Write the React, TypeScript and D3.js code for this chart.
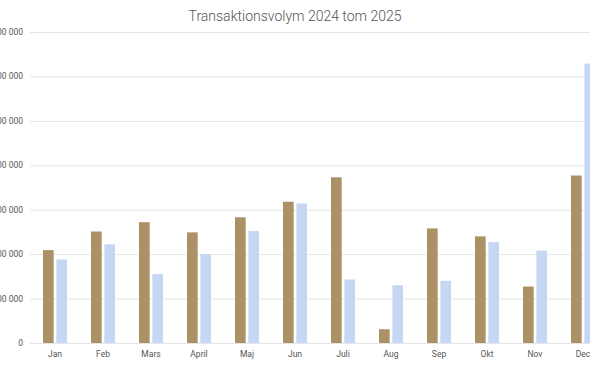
import React, { useEffect, useRef } from "react";
import * as d3 from "d3";

// Months and yearly series
const months = ["Jan", "Feb", "Mars", "April", "Maj", "Jun", "Juli", "Aug", "Sep", "Okt", "Nov", "Dec"];
const series = ["2024", "2025"];
const values2024 = [209000, 251000, 272000, 249000, 283000, 318000, 373000, 31000, 258000, 240000, 127000, 377000];
const values2025 = [188000, 222000, 155000, 200000, 252000, 314000, 143000, 130000, 140000, 227000, 208000, 629000];
const yTicks = [0, 100000, 200000, 300000, 400000, 500000, 600000, 700000];

const colors: Record<string, string> = { "2024": "#ad9166", "2025": "#c6d7f4" };

const W = 590;
const H = 365;

const App: React.FC = () => {
  const svgRef = useRef<SVGSVGElement | null>(null);

  useEffect(() => {
    const svg = d3.select(svgRef.current);
    svg.selectAll("*").remove();

    // plot is wider than the window, so the right side gets cut off
    const left = 31;
    const right = 607;
    const top = 32;
    const bottom = 343;

    const x0 = d3.scaleBand<string>().domain(months).range([left, right]).paddingInner(0.5).paddingOuter(0.25);
    const x1 = d3.scaleBand<string>().domain(series).range([0, x0.bandwidth()]).paddingInner(0.2);
    const y = d3.scaleLinear().domain([0, 700000]).range([bottom, top]);

    const fmt = (v: number) => d3.format(",")(v).replace(/,/g, " ");

    // gridlines
    svg
      .append("g")
      .selectAll("line")
      .data(yTicks)
      .join("line")
      .attr("x1", left - 1)
      .attr("x2", W)
      .attr("y1", (d) => y(d) + 0.5)
      .attr("y2", (d) => y(d) + 0.5)
      .attr("stroke", "#e6e6e6")
      .attr("stroke-width", 1);

    // y labels
    svg
      .append("g")
      .selectAll("text")
      .data(yTicks)
      .join("text")
      .attr("x", 23)
      .attr("y", (d) => y(d))
      .attr("dy", "0.35em")
      .attr("text-anchor", "end")
      .attr("font-size", 8.5)
      .attr("fill", "#555")
      .text((d) => fmt(d));

    // bars
    const data = months.map((m, i) => ({ month: m, vals: [values2024[i], values2025[i]] }));
    const groups = svg
      .append("g")
      .selectAll("g")
      .data(data)
      .join("g")
      .attr("transform", (d) => `translate(${x0(d.month)},0)`);

    groups
      .selectAll("rect")
      .data((d) => d.vals.map((v, j) => ({ key: series[j], v })))
      .join("rect")
      .attr("x", (d) => x1(d.key)!)
      .attr("width", x1.bandwidth())
      .attr("y", (d) => y(d.v))
      .attr("height", (d) => bottom - y(d.v))
      .attr("fill", (d) => colors[d.key]);

    // month labels
    svg
      .append("g")
      .selectAll("text")
      .data(months)
      .join("text")
      .attr("x", (d) => x0(d)! + x0.bandwidth() / 2)
      .attr("y", 357)
      .attr("text-anchor", "middle")
      .attr("font-size", 8.5)
      .attr("fill", "#555")
      .text((d) => d);

    // title
    svg
      .append("text")
      .attr("x", 295)
      .attr("y", 21)
      .attr("text-anchor", "middle")
      .attr("font-size", 14)
      .attr("font-weight", 300)
      .attr("fill", "#555")
      .text("Transaktionsvolym 2024 tom 2025");
  }, []);

  return (
    <svg
      ref={svgRef}
      width={W}
      height={H}
      style={{ position: "absolute", left: 0, top: 0, fontFamily: "Roboto, sans-serif", background: "#fff" }}
    ></svg>
  );
};

export default App;
